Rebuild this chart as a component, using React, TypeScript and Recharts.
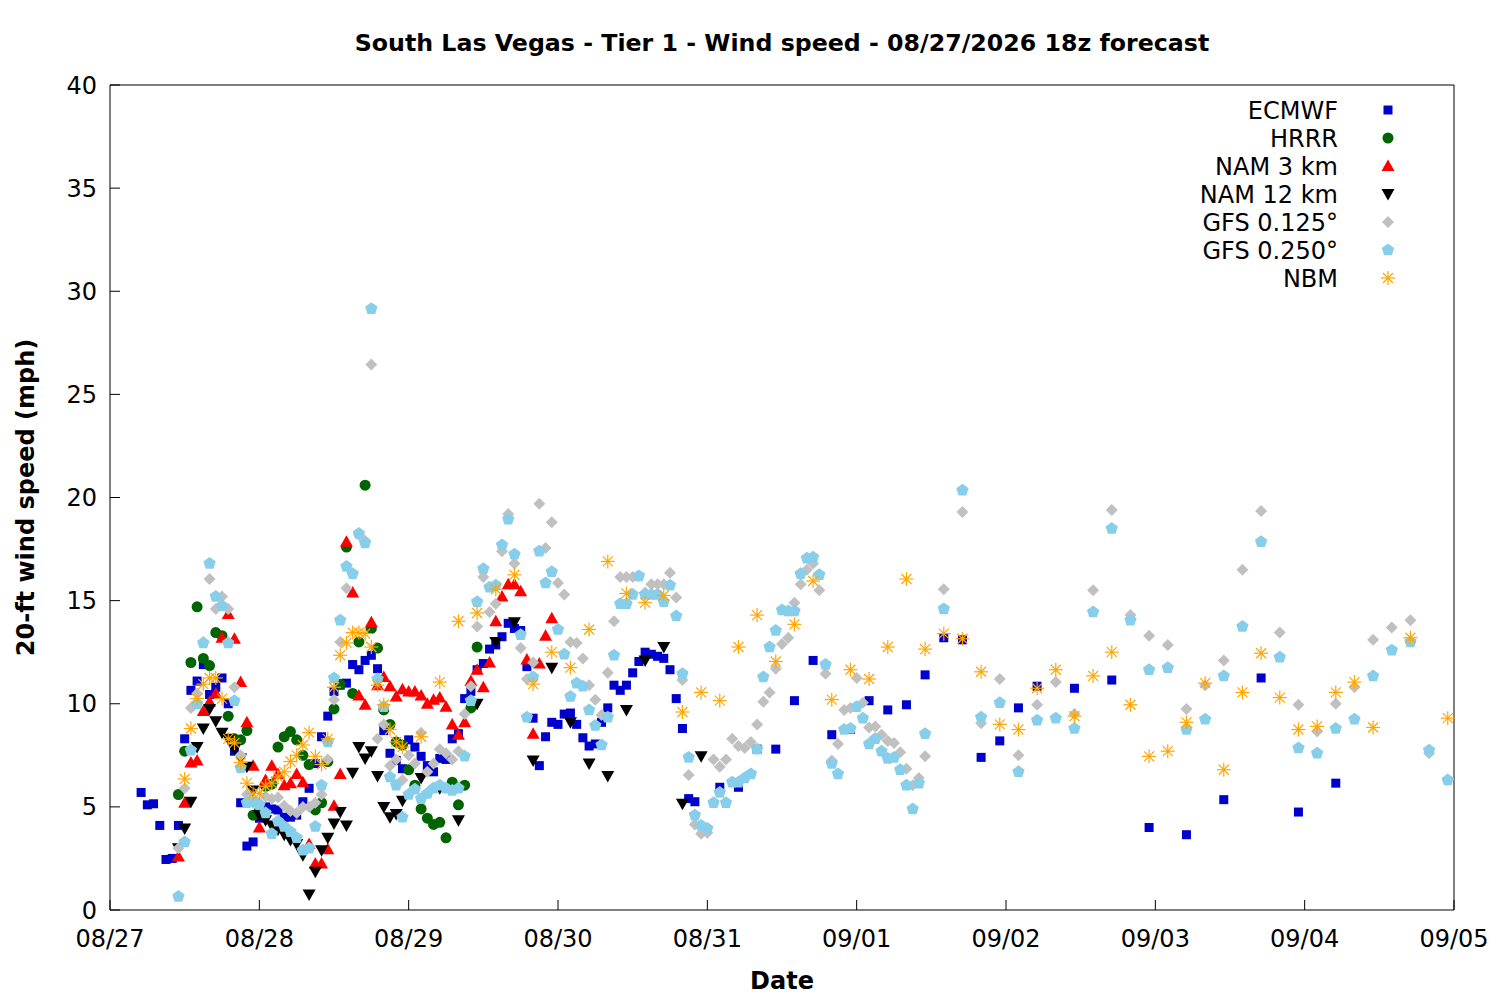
import { ScatterChart, Scatter, XAxis, YAxis, Legend } from "recharts";

// x values are hours after 08/27 00:00
const dayTicks = [0, 24, 48, 72, 96, 120, 144, 168, 192, 216];
const dayLabels = ["08/27", "08/28", "08/29", "08/30", "08/31", "09/01", "09/02", "09/03", "09/04", "09/05"];
const speedTicks = [0, 5, 10, 15, 20, 25, 30, 35, 40];

const ecmwf: [number, number][] = [
  [5, 5.7], [6, 5.1], [7, 5.15], [8, 4.1], [9, 2.45], [10, 2.5], [11, 4.1], [12, 8.3], [13, 10.65], [14, 11.1],
  [15, 11.9], [16, 10.45], [17, 10.8], [18, 11.25], [19, 10.0], [20, 7.7], [21, 5.2], [22, 3.1], [23, 3.3], [24, 4.45],
  [25, 5.0], [26, 4.9], [27, 4.85], [28, 4.5], [29, 4.5], [30, 4.6], [31, 5.25], [32, 5.9], [33, 7.1], [34, 8.4],
  [35, 9.4], [36, 10.6], [37, 10.9], [38, 11.0], [39, 11.9], [40, 11.65], [41, 12.1], [42, 12.35], [43, 11.7], [44, 8.7],
  [45, 7.6], [46, 7.25], [47, 6.85], [48, 8.25], [49, 7.9], [50, 7.45], [51, 7.0], [52, 6.7], [53, 7.35], [54, 7.3],
  [55, 8.3], [56, 8.55], [57, 10.25], [58, 10.6], [59, 11.65], [60, 11.95], [61, 12.65], [62, 12.85], [63, 13.25], [64, 13.9],
  [65, 13.65], [66, 13.55], [67, 11.8], [68, 9.3], [69, 7.0], [70, 8.4], [71, 9.1], [72, 9.0], [73, 9.5], [74, 9.55],
  [75, 9.0], [76, 8.35], [77, 7.95], [78, 8.05], [79, 9.1], [80, 9.8], [81, 10.9], [82, 10.65], [83, 10.9], [84, 11.5],
  [85, 12.05], [86, 12.5], [87, 12.4], [88, 12.3], [89, 12.2], [90, 11.65], [91, 10.25], [92, 8.8], [93, 5.4], [94, 5.25],
  [98, 5.95], [101, 5.95], [104, 7.8], [107, 7.8], [110, 10.15], [113, 12.1], [116, 8.5], [119, 8.75], [122, 10.15], [125, 9.7],
  [128, 9.95], [131, 11.4], [134, 13.2], [137, 13.1], [140, 7.4], [143, 8.2], [146, 9.8], [149, 10.85], [155, 10.75], [161, 11.15],
  [167, 4.0], [173, 3.65], [179, 5.35], [185, 11.25], [191, 4.75], [197, 6.15],
];

const hrrr: [number, number][] = [
  [11, 5.6], [12, 7.7], [13, 12.0], [14, 14.7], [15, 12.2], [16, 11.85], [17, 13.45], [18, 13.3], [19, 9.4], [20, 8.3],
  [21, 8.25], [22, 8.7], [23, 4.6], [24, 4.8], [25, 6.0], [26, 6.1], [27, 7.9], [28, 8.4], [29, 8.65], [30, 8.25],
  [31, 7.5], [32, 7.05], [33, 4.85], [34, 5.2], [35, 7.2], [36, 9.75], [37, 10.95], [38, 17.6], [39, 10.5], [40, 13.0],
  [41, 20.6], [42, 13.65], [43, 12.7], [44, 9.7], [45, 9.0], [46, 8.15], [47, 8.0], [48, 6.8], [49, 6.05], [50, 4.9],
  [51, 4.45], [52, 4.15], [53, 4.25], [54, 3.5], [55, 6.2], [56, 5.1], [57, 6.05], [58, 9.8], [59, 12.75],
];

const nam3: [number, number][] = [
  [11, 2.6], [12, 5.2], [13, 7.15], [14, 7.25], [15, 9.65], [16, 10.1], [17, 10.5], [18, 13.2], [19, 14.35], [20, 13.15],
  [21, 11.05], [22, 9.1], [23, 7.0], [24, 4.0], [25, 6.3], [26, 7.0], [27, 6.6], [28, 6.05], [29, 6.15], [30, 6.6],
  [31, 6.2], [32, 3.2], [33, 2.25], [34, 2.25], [35, 2.95], [36, 5.05], [37, 6.6], [38, 17.85], [39, 15.4], [40, 10.4],
  [41, 9.95], [42, 13.95], [43, 10.9], [44, 11.3], [45, 10.85], [46, 10.35], [47, 10.7], [48, 10.6], [49, 10.6], [50, 10.4],
  [51, 10.0], [52, 10.2], [53, 10.3], [54, 9.85], [55, 9.0], [56, 8.5], [57, 9.1], [58, 11.1], [59, 11.65], [60, 10.8],
  [61, 12.0], [62, 14.0], [63, 15.2], [64, 15.8], [65, 15.8], [66, 15.45], [67, 12.15], [68, 8.55], [69, 11.95], [70, 13.3],
  [71, 14.15],
];

const nam12: [number, number][] = [
  [11, 3.0], [12, 3.95], [13, 5.25], [14, 7.9], [15, 8.8], [16, 9.75], [17, 9.15], [18, 8.6], [19, 8.3], [20, 7.8],
  [21, 7.35], [22, 6.95], [23, 5.8], [24, 4.6], [25, 4.35], [26, 4.1], [27, 3.9], [28, 3.65], [29, 3.4], [30, 3.2],
  [31, 2.65], [32, 0.75], [33, 1.85], [34, 2.9], [35, 3.5], [36, 4.2], [37, 4.75], [38, 4.1], [39, 6.65], [40, 7.9],
  [41, 7.35], [42, 7.7], [43, 6.5], [44, 5.0], [45, 4.5], [46, 4.65], [47, 5.3], [50, 6.4], [53, 5.9], [56, 4.35],
  [59, 10.0], [62, 13.0], [65, 13.95], [68, 7.25], [71, 11.75], [74, 9.1], [77, 7.1], [80, 6.5], [83, 9.7], [86, 12.1],
  [89, 12.75], [92, 5.15], [95, 7.45],
];

const gfs0125: [number, number][] = [
  [11, 3.0], [12, 5.9], [13, 9.8], [14, 10.5], [15, 13.0], [16, 16.05], [17, 14.6], [18, 15.2], [19, 14.6], [20, 10.8],
  [21, 7.5], [22, 5.6], [23, 5.2], [24, 5.2], [25, 5.5], [26, 5.4], [27, 5.45], [28, 5.05], [29, 4.8], [30, 4.7],
  [31, 5.0], [32, 5.0], [33, 5.2], [34, 5.6], [35, 7.3], [36, 10.2], [37, 13.0], [38, 15.6], [39, 16.3], [40, 18.2],
  [41, 17.9], [42, 26.45], [43, 8.3], [44, 9.0], [45, 7.0], [46, 7.3], [47, 6.3], [48, 7.5], [49, 7.1], [50, 8.6],
  [51, 6.7], [52, 7.1], [53, 7.8], [54, 7.6], [55, 7.3], [56, 7.7], [57, 9.5], [58, 10.85], [59, 13.75], [60, 16.15],
  [61, 14.45], [62, 14.85], [63, 17.4], [64, 19.2], [65, 16.8], [66, 12.7], [67, 11.2], [68, 12.0], [69, 19.7], [70, 17.55],
  [71, 18.8], [72, 15.85], [73, 15.3], [74, 13.0], [75, 12.95], [76, 12.2], [77, 10.9], [78, 10.2], [79, 9.45], [80, 11.5],
  [81, 14.0], [82, 16.15], [83, 16.15], [84, 16.15], [85, 16.2], [86, 15.4], [87, 15.8], [88, 15.8], [89, 15.8], [90, 16.35],
  [91, 15.15], [92, 11.15], [93, 6.55], [94, 4.15], [95, 3.7], [96, 3.75], [97, 7.3], [98, 6.95], [99, 7.3], [100, 8.3],
  [101, 7.95], [102, 7.85], [103, 8.15], [104, 9.0], [105, 10.1], [106, 10.55], [107, 11.7], [108, 12.9], [109, 13.2], [110, 14.9],
  [111, 15.8], [112, 16.5], [113, 16.8], [114, 15.5], [115, 11.45], [116, 7.25], [117, 8.05], [118, 9.7], [119, 9.8], [120, 11.25],
  [121, 10.05], [122, 8.85], [123, 8.9], [124, 8.5], [125, 8.2], [126, 8.1], [127, 7.65], [128, 6.85], [129, 6.05], [130, 6.4],
  [131, 7.45], [134, 15.55], [137, 19.3], [140, 9.05], [143, 11.2], [146, 7.5], [149, 9.95], [152, 11.05], [155, 9.5], [158, 15.5],
  [161, 19.4], [164, 14.3], [167, 13.3], [170, 12.85], [173, 9.75], [176, 10.9], [179, 12.1], [182, 16.5], [185, 19.35], [188, 13.45],
  [191, 9.95], [194, 8.65], [197, 10.0], [200, 10.8], [203, 13.1], [206, 13.7], [209, 14.05], [212, 7.6], [215, 6.3],
];

const gfs0250: [number, number][] = [
  [11, 0.65], [12, 3.3], [13, 7.75], [14, 10.0], [15, 12.95], [16, 16.8], [17, 15.2], [18, 14.75], [19, 12.95], [20, 10.15],
  [21, 6.9], [22, 5.2], [23, 5.25], [24, 5.1], [25, 4.7], [26, 3.7], [27, 4.3], [28, 4.05], [29, 3.8], [30, 3.5],
  [31, 2.9], [32, 3.0], [33, 4.05], [34, 6.05], [35, 8.15], [36, 11.25], [37, 14.05], [38, 16.65], [39, 16.3], [40, 18.25],
  [41, 17.8], [42, 29.15], [43, 11.2], [44, 9.85], [45, 6.45], [46, 6.05], [47, 4.5], [48, 5.6], [49, 5.85], [50, 5.4],
  [51, 5.65], [52, 5.9], [53, 6.05], [54, 5.9], [55, 5.8], [56, 5.9], [57, 7.45], [58, 10.15], [59, 14.95], [60, 16.55],
  [61, 15.65], [62, 15.75], [63, 17.7], [64, 18.95], [65, 17.25], [66, 13.35], [67, 9.35], [68, 11.3], [69, 17.4], [70, 15.85],
  [71, 16.4], [72, 13.6], [73, 12.4], [74, 10.35], [75, 11.0], [76, 10.85], [77, 9.7], [78, 8.95], [79, 8.0], [80, 9.35],
  [81, 12.35], [82, 14.85], [83, 14.85], [84, 15.3], [85, 16.2], [86, 15.3], [87, 15.3], [88, 15.3], [89, 14.95], [90, 15.75],
  [91, 14.25], [92, 11.45], [93, 7.4], [94, 4.6], [95, 4.1], [96, 3.95], [97, 5.2], [98, 5.7], [99, 5.2], [100, 6.2],
  [101, 6.2], [102, 6.4], [103, 6.6], [104, 7.8], [105, 11.3], [106, 12.75], [107, 13.55], [108, 14.55], [109, 14.5], [110, 14.5],
  [111, 16.3], [112, 17.05], [113, 17.1], [114, 16.25], [115, 11.9], [116, 7.1], [117, 6.6], [118, 8.75], [119, 8.8], [120, 9.85],
  [121, 9.3], [122, 8.05], [123, 8.3], [124, 7.7], [125, 7.35], [126, 7.4], [127, 6.8], [128, 6.05], [129, 4.9], [130, 6.15],
  [131, 8.55], [134, 14.6], [137, 20.35], [140, 9.35], [143, 10.05], [146, 6.7], [149, 9.2], [152, 9.3], [155, 8.8], [158, 14.45],
  [161, 18.5], [164, 14.05], [167, 11.65], [170, 11.75], [173, 8.75], [176, 9.25], [179, 11.35], [182, 13.75], [185, 17.85], [188, 12.25],
  [191, 7.85], [194, 7.6], [197, 8.8], [200, 9.25], [203, 11.35], [206, 12.6], [209, 13.0], [212, 7.75], [215, 6.3],
];

const nbm: [number, number][] = [
  [12, 6.35], [13, 8.8], [14, 10.25], [15, 10.95], [16, 11.25], [17, 11.25], [18, 10.25], [19, 8.3], [20, 8.1], [21, 7.15],
  [22, 6.15], [23, 5.65], [24, 5.65], [25, 6.0], [26, 6.15], [27, 6.45], [28, 6.7], [29, 7.2], [30, 7.5], [31, 8.0],
  [32, 8.6], [33, 7.45], [34, 7.05], [35, 8.3], [36, 10.8], [37, 12.35], [38, 12.95], [39, 13.45], [40, 13.45], [41, 13.4],
  [42, 12.75], [43, 10.9], [44, 9.95], [45, 8.75], [46, 8.15], [47, 7.9], [50, 8.4], [53, 11.05], [56, 14.0], [59, 14.4],
  [62, 15.55], [65, 16.25], [68, 10.95], [71, 12.5], [74, 11.75], [77, 13.6], [80, 16.9], [83, 15.35], [86, 14.9], [89, 15.25],
  [92, 9.6], [95, 10.55], [98, 10.15], [101, 12.75], [104, 14.3], [107, 12.05], [110, 13.85], [113, 15.95], [116, 10.2], [119, 11.65],
  [122, 11.2], [125, 12.75], [128, 16.05], [131, 12.65], [134, 13.4], [137, 13.15], [140, 11.55], [143, 9.0], [146, 8.75], [149, 10.75],
  [152, 11.65], [155, 9.4], [158, 11.35], [161, 12.5], [164, 9.95], [167, 7.45], [170, 7.7], [173, 9.1], [176, 11.0], [179, 6.8],
  [182, 10.55], [185, 12.45], [188, 10.3], [191, 8.75], [194, 8.9], [197, 10.55], [200, 11.05], [203, 8.85], [209, 13.2], [215, 9.3],
];

const FONT = "DejaVu Sans, sans-serif";

type Marker = (cx: number, cy: number, key?: string) => JSX.Element;

const square = (color: string): Marker => (cx, cy, key) => (
  <rect key={key} x={cx - 4.5} y={cy - 4.5} width={9} height={9} fill={color} />
);
const circle = (color: string): Marker => (cx, cy, key) => (
  <circle key={key} cx={cx} cy={cy} r={5.5} fill={color} />
);
const triUp = (color: string): Marker => (cx, cy, key) => (
  <polygon key={key} points={`${cx},${cy - 6.5} ${cx - 6.5},${cy + 5} ${cx + 6.5},${cy + 5}`} fill={color} />
);
const triDown = (color: string): Marker => (cx, cy, key) => (
  <polygon key={key} points={`${cx - 6.5},${cy - 5} ${cx + 6.5},${cy - 5} ${cx},${cy + 6.5}`} fill={color} />
);
const diamond = (color: string): Marker => (cx, cy, key) => (
  <polygon key={key} points={`${cx},${cy - 6} ${cx + 6},${cy} ${cx},${cy + 6} ${cx - 6},${cy}`} fill={color} />
);
const pentagon = (color: string): Marker => (cx, cy, key) => {
  const pts = [0, 1, 2, 3, 4]
    .map((k) => {
      const a = (-90 + 72 * k) * (Math.PI / 180);
      return `${cx + 6.5 * Math.cos(a)},${cy + 6.5 * Math.sin(a)}`;
    })
    .join(" ");
  return <polygon key={key} points={pts} fill={color} />;
};
const asterisk = (color: string): Marker => (cx, cy, key) => (
  <g key={key} stroke={color} strokeWidth={1.2}>
    <line x1={cx - 7} y1={cy} x2={cx + 7} y2={cy} />
    <line x1={cx} y1={cy - 7} x2={cx} y2={cy + 7} />
    <line x1={cx - 5} y1={cy - 5} x2={cx + 5} y2={cy + 5} />
    <line x1={cx - 5} y1={cy + 5} x2={cx + 5} y2={cy - 5} />
  </g>
);

const series = [
  { name: "ECMWF", rows: ecmwf, marker: square("#0000cc") },
  { name: "HRRR", rows: hrrr, marker: circle("#006400") },
  { name: "NAM 3 km", rows: nam3, marker: triUp("#ff0000") },
  { name: "NAM 12 km", rows: nam12, marker: triDown("#000000") },
  { name: "GFS 0.125°", rows: gfs0125, marker: diamond("#c0c0c0") },
  { name: "GFS 0.250°", rows: gfs0250, marker: pentagon("#87ceeb") },
  { name: "NBM", rows: nbm, marker: asterisk("#ffa500") },
];

const BottomTick = ({ x, y, payload }: any) => (
  <g>
    <line x1={x} y1={y} x2={x} y2={y - 10} stroke="#000" />
    <text x={x} y={y + 37} textAnchor="middle" fontFamily={FONT} fontSize={24} fill="#000">
      {dayLabels[dayTicks.indexOf(payload.value)]}
    </text>
  </g>
);
const TopTick = ({ x, y }: any) => <line x1={x} y1={y} x2={x} y2={y + 10} stroke="#000" />;
const LeftTick = ({ x, y, payload }: any) => (
  <g>
    <line x1={x} y1={y} x2={x + 10} y2={y} stroke="#000" />
    <text x={x - 13} y={y + 8.5} textAnchor="end" fontFamily={FONT} fontSize={24} fill="#000">
      {payload.value}
    </text>
  </g>
);
const RightTick = ({ x, y }: any) => <line x1={x} y1={y} x2={x - 10} y2={y} stroke="#000" />;

const renderLegend = () => (
  <svg width={1500} height={300}>
    {series.map((s, i) => {
      const cy = 110 + 28 * i;
      return (
        <g key={s.name}>
          <text x={1338} y={cy + 8.5} textAnchor="end" fontFamily={FONT} fontSize={24} fill="#000">
            {s.name}
          </text>
          {s.marker(1388, cy)}
        </g>
      );
    })}
  </svg>
);

export default function App() {
  return (
    <div style={{ position: "absolute", left: 0, top: 0, background: "#fff" }}>
      <ScatterChart width={1500} height={1000} margin={{ top: 40, right: 0, bottom: 30, left: 50 }}>
        <XAxis
          dataKey="h"
          type="number"
          domain={[0, 216]}
          ticks={dayTicks}
          height={60}
          tickSize={0}
          tickMargin={0}
          tickLine={false}
          axisLine={{ stroke: "#000" }}
          tick={BottomTick}
          interval={0}
          label={({ viewBox }: any) => (
            <text
              x={viewBox.x + viewBox.width / 2}
              y={viewBox.y + 79}
              textAnchor="middle"
              fontFamily={FONT}
              fontWeight="bold"
              fontSize={24}
            >
              Date
            </text>
          )}
        />
        <XAxis
          xAxisId="top"
          orientation="top"
          type="number"
          domain={[0, 216]}
          ticks={dayTicks}
          height={45}
          tickSize={0}
          tickMargin={0}
          tickLine={false}
          axisLine={{ stroke: "#000" }}
          tick={TopTick}
          interval={0}
          label={({ viewBox }: any) => (
            <text
              x={viewBox.x + viewBox.width / 2}
              y={viewBox.y + 11}
              textAnchor="middle"
              fontFamily={FONT}
              fontWeight="bold"
              fontSize={23.7}
            >
              South Las Vegas - Tier 1 - Wind speed - 08/27/2026 18z forecast
            </text>
          )}
        />
        <YAxis
          dataKey="v"
          type="number"
          domain={[0, 40]}
          ticks={speedTicks}
          width={60}
          tickSize={0}
          tickMargin={0}
          tickLine={false}
          axisLine={{ stroke: "#000" }}
          tick={LeftTick}
          interval={0}
          label={({ viewBox }: any) => {
            const lx = viewBox.x - 16;
            const ly = viewBox.y + viewBox.height / 2;
            return (
              <text
                x={lx}
                y={ly}
                transform={`rotate(-90 ${lx} ${ly})`}
                textAnchor="middle"
                fontFamily={FONT}
                fontWeight="bold"
                fontSize={24}
              >
                20-ft wind speed (mph)
              </text>
            );
          }}
        />
        <YAxis
          yAxisId="right"
          orientation="right"
          type="number"
          domain={[0, 40]}
          ticks={speedTicks}
          width={46}
          tickSize={0}
          tickMargin={0}
          tickLine={false}
          axisLine={{ stroke: "#000" }}
          tick={RightTick}
          interval={0}
        />
        {series.map((s) => (
          <Scatter
            key={s.name}
            name={s.name}
            data={s.rows.map(([h, v]) => ({ h, v }))}
            isAnimationActive={false}
            shape={(p: any) => s.marker(p.cx, p.cy)}
          />
        ))}
        <Legend
          layout="vertical"
          align="center"
          verticalAlign="middle"
          content={renderLegend}
          wrapperStyle={{ left: 0, top: 0, width: 1500, height: 300, pointerEvents: "none" }}
        />
      </ScatterChart>
    </div>
  );
}
